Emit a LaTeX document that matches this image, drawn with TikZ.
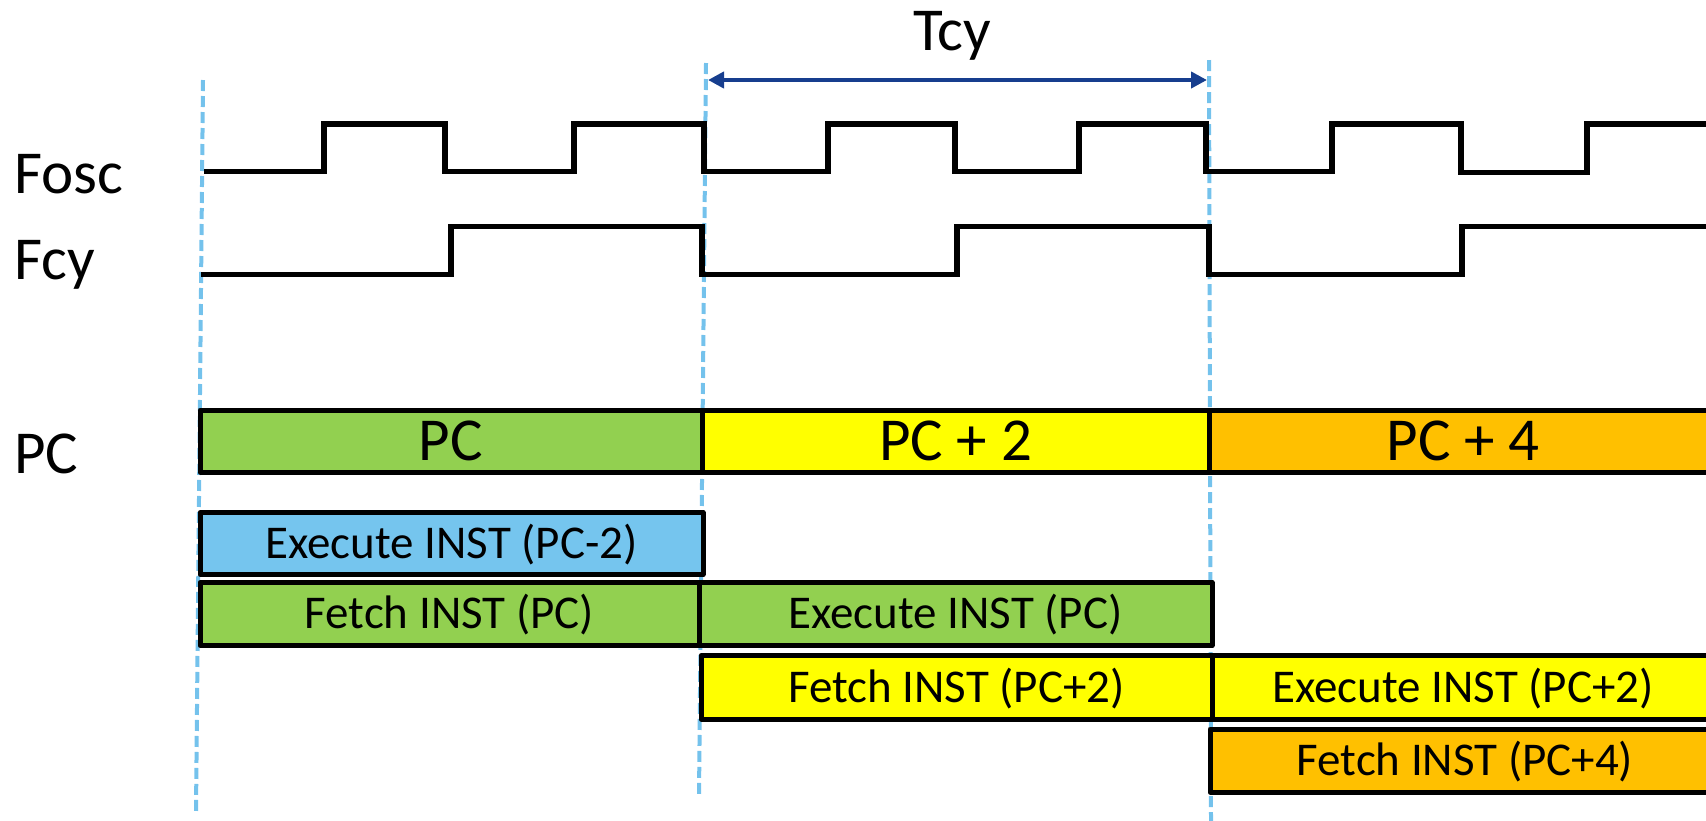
\documentclass[tikz,border=0pt]{standalone}
\usepackage{fontspec}
\setmainfont{Carlito}
\usetikzlibrary{arrows.meta}
\definecolor{tickblue}{HTML}{74C2EC}
\definecolor{arrowblue}{HTML}{173E8E}
\definecolor{pcgreen}{HTML}{92D050}
\definecolor{pcyellow}{HTML}{FFFF00}
\definecolor{pcorange}{HTML}{FFC000}
\definecolor{pcblue}{HTML}{75C5EE}
\begin{document}
\begin{tikzpicture}[x=0.5pt,y=-0.5pt,
  tick/.style={tickblue, line width=2pt, dash pattern=on 5.5pt off 2.5pt},
  signal/.style={black, line width=2.6pt, line join=miter},
  bigfont/.style={font=\fontsize{30.5}{36}\selectfont},
  smallfont/.style={font=\fontsize{23.5}{28}\selectfont},
  siglabel/.style={bigfont, inner sep=0pt, anchor=base west},
  slot/.style={draw=black, line width=2.5pt, line join=round, rectangle,
    inner sep=0pt, outer sep=0pt, anchor=north west, text depth=0pt},
  bigslot/.style={slot, bigfont, text height=19.3pt},
  smallslot/.style={slot, smallfont, text height=14.85pt},
  span/.style={arrowblue, line width=2.2pt,
    {Triangle[length=8pt,width=8pt]}-{Triangle[length=8pt,width=8pt]}}
]
\useasboundingbox (0,0) rectangle (1706,820);
\clip (0,0) rectangle (1706,820);

% instruction-cycle boundaries
\coordinate (t0top) at (203,80);   \coordinate (t0bot) at (196,812);
\coordinate (t1top) at (706,63);   \coordinate (t1bot) at (699,796);
\coordinate (t2top) at (1209,60);  \coordinate (t2bot) at (1211,822);
\draw[tick] (t0top) -- (t0bot);
\draw[tick] (t1top) -- (t1bot);
\draw[tick] (t2top) -- (t2bot);

% cycle period
\coordinate (tl) at (708,80);
\coordinate (tr) at (1207,80);
\draw[span] (tl) -- (tr);
\node[bigfont, inner sep=0pt, anchor=base] (tcy) at (952,50) {Tcy};

% signal names
\node[siglabel] (fosc) at (14,193) {Fosc};
\node[siglabel] (fcy) at (14,279) {Fcy};
\node[siglabel] (pc) at (14,473) {PC};

% oscillator clock
\draw[signal] (204,171.5) -- (324,171.5) -- (324,124) -- (445,124) -- (445,171.5)
  -- (574,171.5) -- (574,124) -- (704,124) -- (704,171.5)
  -- (828,171.5) -- (828,124) -- (955,124) -- (955,171.5)
  -- (1079,171.5) -- (1079,124) -- (1206,124) -- (1206,171.5)
  -- (1332,171.5) -- (1332,124) -- (1461,124) -- (1461,172.5)
  -- (1587,172.5) -- (1587,124) -- (1720,124);

% instruction clock
\draw[signal] (201,274.5) -- (451,274.5) -- (451,226.5) -- (702,226.5) -- (702,274.5)
  -- (957,274.5) -- (957,226.5) -- (1209,226.5) -- (1209,274.5)
  -- (1462,274.5) -- (1462,226.5) -- (1720,226.5);

% program counter
\node[bigslot, fill=pcgreen,  minimum width=251pt,   minimum height=31pt] (pc0) at (200,410)  {PC};
\node[bigslot, fill=pcyellow, minimum width=253.5pt, minimum height=31pt] (pc2) at (702,410)  {PC + 2};
\node[bigslot, fill=pcorange, minimum width=254pt,   minimum height=31pt] (pc4) at (1209,410) {PC + 4};

% pipeline stages
\node[smallslot, fill=pcblue,   minimum width=251.5pt, minimum height=31pt]   (exm2) at (200,512.5) {Execute INST (PC-2)};
\node[smallslot, fill=pcgreen,  minimum width=249.5pt, minimum height=31.5pt] (fpc)  at (200,582.5) {Fetch INST (PC)};
\node[smallslot, fill=pcgreen,  minimum width=256.5pt, minimum height=31.5pt] (epc)  at (699,582.5) {Execute INST (PC)};
\node[smallslot, fill=pcyellow, minimum width=255.5pt, minimum height=31.75pt] (fpc2) at (701,655.5) {Fetch INST (PC+2)};
\node[smallslot, fill=pcyellow, minimum width=251pt,   minimum height=31.75pt] (epc2) at (1212,655.5) {Execute INST (PC+2)};
\node[smallslot, fill=pcorange, minimum width=255pt,   minimum height=31.5pt] (fpc4) at (1210,729) {Fetch INST (PC+4)};
\end{tikzpicture}
\end{document}
